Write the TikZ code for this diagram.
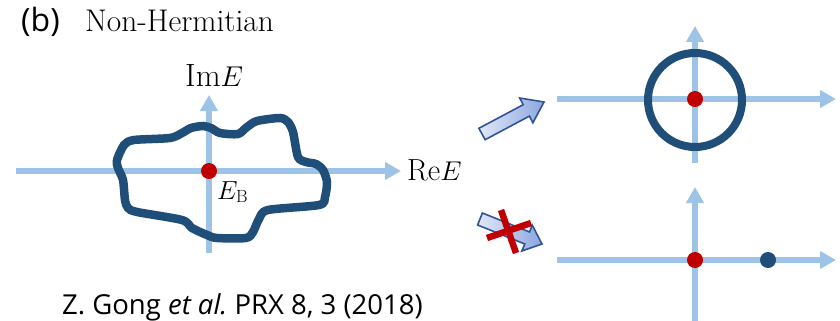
\documentclass[tikz,border=0pt]{standalone}
\usepackage{fontspec}
\newfontfamily\sansf{Open Sans}
\usetikzlibrary{arrows.meta}
\definecolor{axisblue}{RGB}{157,195,230}
\definecolor{darkblue}{RGB}{31,78,121}
\definecolor{dotred}{RGB}{192,0,0}
\definecolor{arrowlight}{RGB}{224,232,248}
\definecolor{arrowdark}{RGB}{140,166,222}
\definecolor{arrowedge}{RGB}{47,85,151}
\begin{document}
\begin{tikzpicture}[x=1pt,y=-1pt,
  axis/.style={draw=axisblue,line width=6pt,-{Triangle[width=17pt,length=16pt]}},
  reddot/.style={circle,fill=dotred,inner sep=0pt,minimum size=16pt},
  bluedot/.style={circle,fill=darkblue,inner sep=0pt,minimum size=16pt},
  curve/.style={draw=darkblue,line width=8.5pt},
  blockarrow/.style={draw=arrowedge,line width=1.6pt,left color=arrowlight,right color=arrowdark,line join=miter},
  crossline/.style={draw=dotred,line width=6.5pt},
  serif/.style={inner sep=0pt,anchor=base west,font=\fontsize{28}{30}\selectfont},
  sanslabel/.style={inner sep=0pt,anchor=base west,font=\sansf\fontsize{27.5}{30}\selectfont}]
\useasboundingbox (0,0) rectangle (840,321);

% ---------- left plane ----------
\coordinate (L-w) at (16,171);
\coordinate (L-e) at (401,171);
\coordinate (L-s) at (209,253);
\coordinate (L-n) at (209,95);
\draw[axis] (L-w) -- (L-e);
\draw[axis] (L-s) -- (L-n);
\draw[curve] plot[smooth cycle,tension=0.45] coordinates {
  (117,160) (124,145) (134,140) (170,138) (182,133) (191,128) (203,126) (211,128)
  (220,133) (238,134) (247,127) (257,121) (280,118) (288,122) (293,132) (298,157)
  (306,162) (316,164) (323,170) (327,182) (325,197) (319,205) (268,210) (259,219)
  (253,232) (246,238) (217,238) (207,235) (192,228) (182,220) (137,212) (128,208)
  (125,200) (123,180) (118,168)};
\node[reddot] (EB) at (209,171) {};
\node[serif,scale=1.15] (ImE) at (185,86) {$\mathrm{Im}E$};
\node[serif,scale=1.09] (ReE) at (407,180) {$\mathrm{Re}E$};
\node[inner sep=0pt,anchor=base west,font=\fontsize{24}{26}\selectfont,scale=1.05] (EBl) at (217,199) {$E_{\mathrm{B}}$};

% ---------- titles ----------
\node[sanslabel,font=\sansf\fontsize{32}{34}\selectfont] (b) at (21,32) {(b)};
\node[serif,scale=1.12] (title) at (85,32) {Non-Hermitian};
\node[sanslabel] (cite) at (62,314) {Z. Gong {\itshape et al.}\ PRX 8, 3 (2018)};

% ---------- right top ----------
\coordinate (T-w) at (557,99);
\coordinate (T-e) at (836,99);
\coordinate (T-s) at (695,163);
\coordinate (T-n) at (695,26);
\draw[axis] (T-w) -- (T-e);
\draw[axis] (T-s) -- (T-n);
\node[circle,draw=darkblue,line width=8pt,minimum size=94pt,inner sep=0pt] (ring) at (695,100) {};
\node[reddot] (T-dot) at (695,99) {};

% ---------- right bottom ----------
\coordinate (B-w) at (557,260);
\coordinate (B-e) at (836,260);
\coordinate (B-s) at (695,321);
\coordinate (B-n) at (695,187);
\draw[axis] (B-w) -- (B-e);
\draw[axis] (B-s) -- (B-n);
\node[reddot] (B-dot) at (695,260) {};
\node[bluedot] (B-bdot) at (768,260) {};

% ---------- block arrows ----------
\path[blockarrow] (485.1,139.7) -- (478.9,128.3) -- (523.2,104.7) -- (519.7,98.0)
  -- (544,102) -- (532.9,122.8) -- (529.4,116.1) -- cycle;
\path[blockarrow] (477.6,225.0) -- (482.4,213.0) -- (529.6,232.0) -- (532.2,225.0)
  -- (542,244) -- (521.8,251.0) -- (524.8,244.0) -- cycle;
\coordinate (X1a) at (501,210);
\coordinate (X1b) at (516,253);
\coordinate (X2a) at (487,238);
\coordinate (X2b) at (531,223);
\draw[crossline] (X1a) -- (X1b);
\draw[crossline] (X2a) -- (X2b);
\end{tikzpicture}
\end{document}
